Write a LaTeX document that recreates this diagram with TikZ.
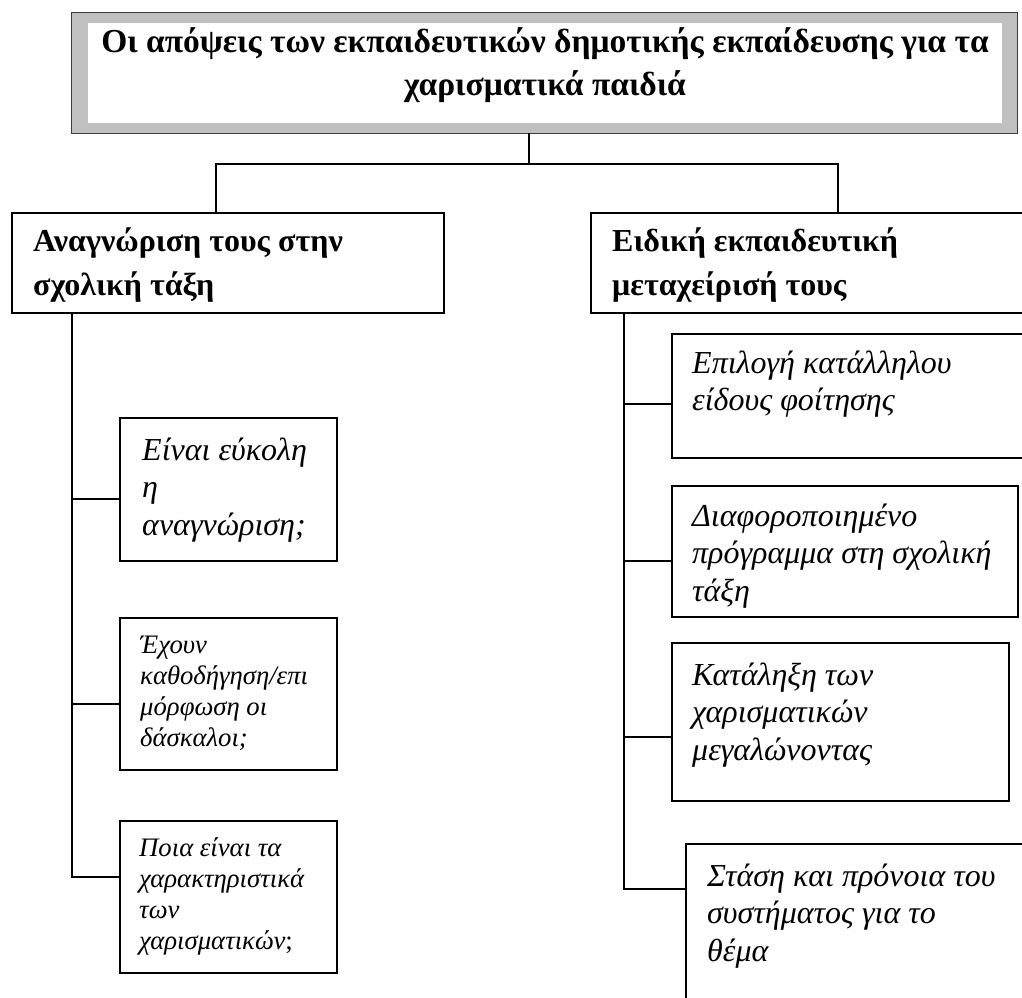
\documentclass[tikz,border=0pt]{standalone}
\usepackage{fontspec}
\setmainfont{Liberation Serif}
\usetikzlibrary{calc}
\newcommand\mylines[2]{\parbox[t]{#1pt}{\raggedright #2}}
\newcommand\mycentered[2]{\parbox[t]{#1pt}{\centering #2}}
\tikzset{
  framebox/.style={draw=black, line width=1.3pt, anchor=north west, inner sep=0pt, outer sep=0pt},
  conn/.style={draw=black, line width=1.4pt},
  hdtxt/.style={inner sep=0pt, anchor=base west, font=\fontsize{32}{44}\selectfont\bfseries},
  bigit/.style={inner sep=0pt, anchor=base west, font=\fontsize{32}{37.5}\selectfont\itshape},
  smallit/.style={inner sep=0pt, anchor=base west, font=\fontsize{26.7}{31}\selectfont\itshape},
}
\begin{document}
\begin{tikzpicture}[x=1pt,y=-1pt]
\useasboundingbox (0,0) rectangle (1022,997);
\clip (0,0) rectangle (1022,997);
% title
\node[framebox, fill={rgb,255:red,192;green,192;blue,192}, line width=1pt, draw={rgb,255:red,60;green,60;blue,60}, minimum width=946pt, minimum height=121pt] (title) at (71,12) {};
\node[anchor=north west, fill=white, inner sep=0pt, minimum width=914pt, minimum height=100pt] (titlein) at (88,23) {};
\node[inner sep=0pt, anchor=base, font=\fontsize{33.5}{43}\selectfont\bfseries] (titletxt) at (545,52)
  {\mycentered{914}{Οι απόψεις των εκπαιδευτικών δημοτικής εκπαίδευσης για τα\\ χαρισματικά παιδιά}};
% headers
\node[framebox, minimum width=432pt, minimum height=100pt] (lh) at (12,213) {};
\node[framebox, minimum width=460pt, minimum height=100pt] (rh) at (591,213) {};
\node[hdtxt] (lhtxt) at (33,251) {\mylines{400}{Αναγνώριση τους στην\\ σχολική τάξη}};
\node[hdtxt] (rhtxt) at (612,251) {\mylines{400}{Ειδική εκπαιδευτική\\ μεταχείρισή τους}};
% left children
\node[framebox, minimum width=217pt, minimum height=143pt] (l1) at (120,418) {};
\node[framebox, minimum width=217pt, minimum height=152pt] (l2) at (120,618) {};
\node[framebox, minimum width=217pt, minimum height=152pt] (l3) at (120,821) {};
\node[bigit] (l1txt) at (142,460) {\mylines{200}{Είναι εύκολη\\ η\\ αναγνώριση;}};
\node[smallit] (l2txt) at (140,653) {\mylines{200}{Έχουν\\ καθοδήγηση/επι\\ μόρφωση οι\\ δάσκαλοι;}};
\node[smallit] (l3txt) at (139,856) {\mylines{200}{Ποια είναι τα\\ χαρακτηριστικά\\ των\\ χαρισματικών{\upshape;}}};
% right children
\node[framebox, minimum width=380pt, minimum height=124pt] (r1) at (672,334) {};
\node[framebox, minimum width=346pt, minimum height=131pt] (r2) at (672,486) {};
\node[framebox, minimum width=337pt, minimum height=158pt] (r3) at (672,643) {};
\node[framebox, minimum width=360pt, minimum height=200pt] (r4) at (686,844) {};
\node[bigit] (r1txt) at (692,373) {\mylines{330}{Επιλογή κατάλληλου\\ είδους φοίτησης}};
\node[bigit] (r2txt) at (692,526) {\mylines{330}{Διαφοροποιημένο\\ πρόγραμμα στη σχολική\\ τάξη}};
\node[bigit] (r3txt) at (692,685) {\mylines{320}{Κατάληξη των\\ χαρισματικών\\ μεγαλώνοντας}};
\node[bigit] (r4txt) at (707,886) {\mylines{320}{Στάση και πρόνοια του\\ συστήματος για το\\ θέμα}};
% connectors top
\coordinate (bus) at (529,164);
\coordinate (busl) at (216,164);
\coordinate (busr) at (838,164);
\draw[conn] (title.south -| bus) -- (bus);
\draw[conn] (lh.north -| busl) -- (busl) -- (busr) -- (rh.north -| busr);
% left trunk
\coordinate (lt) at (72,877);
\draw[conn] (lh.south -| lt) -- (lt) -- (l3.west |- lt);
\draw[conn] (lt |- 0,499) -- (l1.west |- 0,499);
\draw[conn] (lt |- 0,704) -- (l2.west |- 0,704);
% right trunk
\coordinate (rt) at (624,889);
\draw[conn] (rh.south -| rt) -- (rt) -- (r4.west |- rt);
\draw[conn] (rt |- 0,404) -- (r1.west |- 0,404);
\draw[conn] (rt |- 0,561) -- (r2.west |- 0,561);
\draw[conn] (rt |- 0,737) -- (r3.west |- 0,737);
\end{tikzpicture}
\end{document}
